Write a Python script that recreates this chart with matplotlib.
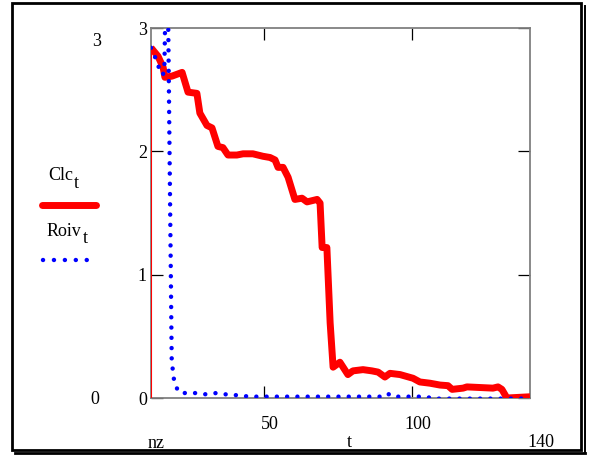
import matplotlib
matplotlib.use("Agg")
import matplotlib.pyplot as plt
import matplotlib.transforms as mtransforms
from matplotlib.lines import Line2D
from matplotlib.patches import Rectangle

# Series Clc(t)
t_clc = [12, 14.4, 16.1, 16.7, 19.1, 22.5, 24.5, 27.5, 28.5, 30.9,
         32.6, 34.6, 36.3, 38.0, 41.0, 43.1, 46.4, 49.8, 52.2, 53.9,
         54.9, 56.6, 58.3, 60.6, 63.0, 64.7, 68.1, 69.1, 69.8, 71.4,
         72.5, 73.5, 75.8, 78.5, 80.2, 83.6, 86.6, 88.7, 91.0, 92.7,
         96.1, 100.5, 102.8, 106.2, 109.6, 112.3, 113.7, 117.4, 118.7, 127.5,
         129.2, 130.5, 132.2, 140]
clc = [2.84, 2.77, 2.68, 2.60, 2.61, 2.64, 2.48, 2.47, 2.31, 2.21,
       2.19, 2.04, 2.03, 1.97, 1.97, 1.98, 1.98, 1.96, 1.95, 1.93,
       1.87, 1.87, 1.79, 1.61, 1.62, 1.59, 1.61, 1.58, 1.22, 1.22,
       0.61, 0.25, 0.29, 0.19, 0.22, 0.23, 0.22, 0.21, 0.17, 0.20,
       0.19, 0.16, 0.13, 0.12, 0.105, 0.10, 0.07, 0.08, 0.09, 0.08,
       0.09, 0.07, 0.0, 0.01]

# Series Roiv(t)
t_roiv = [12, 13, 14.3, 15.8, 16.5, 17.4, 19.0, 19.8, 21.2, 23.5,
          27, 30.5, 34, 37, 40, 43.5, 47, 55, 65, 75,
          85, 90.5, 92, 93.5, 100, 105, 107, 120, 140]
roiv = [2.84, 2.79, 2.70, 2.62, 2.64, 4.0, 0.3, 0.14, 0.05, 0.04,
        0.04, 0.03, 0.04, 0.03, 0.025, 0.015, 0.011, 0.011, 0.011, 0.011,
        0.011, 0.011, 0.035, 0.011, 0.011, 0.011, -0.005, -0.005, -0.005]

x_ticks = [50, 100]
y_ticks = [0, 1, 2, 3]
x_lo, x_hi = 12, 140
y_lo, y_hi = 0, 3

W, H = 590, 461
SERIF = ["Liberation Serif", "DejaVu Serif"]
FS = 13

RED_LW = 5.0
DOT_LW = 3.2
DOTS = (0, (0.01, 2.3))

fig = plt.figure(figsize=(W / 100, H / 100), dpi=100)
ax = fig.add_axes([151 / W, 1 - 398 / H, 379 / W, 370 / H])

ax.plot(t_clc, clc, color="#ff0000", lw=RED_LW, solid_joinstyle="round",
        solid_capstyle="butt", zorder=3)
# thin drop line from the first Clc value to the axis
ax.vlines(t_clc[0], 0, clc[0], color="#ff0000", lw=1.5, zorder=3)
ax.plot(t_roiv, roiv, color="#0000ff", lw=DOT_LW, linestyle=DOTS,
        dash_capstyle="round", zorder=4)

ax.set_xlim(x_lo, x_hi)
ax.set_ylim(y_lo, y_hi)

for s in ax.spines.values():
    s.set_color("#808080")
    s.set_linewidth(1.3)

ax.set_xticks(x_ticks)
ax.set_yticks(y_ticks)
ax.tick_params(direction="in", length=8.5, width=0.9, color="black",
               top=True, right=True, labelsize=FS, pad=3)
ax.set_xticklabels([str(v) for v in x_ticks], family=SERIF)
ax.set_yticklabels([str(v) for v in y_ticks], family=SERIF)
ax.tick_params(axis="x", pad=13)
shift = mtransforms.ScaledTranslation(6 / 100, 0, fig.dpi_scale_trans)
for lab in ax.get_xticklabels():
    lab.set_transform(lab.get_transform() + shift)


def ftext(x, y, s, **kw):
    fig.text(x / W, 1 - y / H, s, family=SERIF, fontsize=FS,
             ha="center", va="center", **kw)


# axis limit labels
ftext(97, 41, "3")
ftext(95, 399, "0")
ftext(156, 443, "nz")
ftext(349, 442, "t")
ftext(541, 442, "140")

# legend: name with a lowered, full-size subscript
def legend_name(x, y, name):
    t = fig.text(x / W, 1 - y / H, name, family=SERIF, fontsize=FS,
                 ha="left", va="center")
    fig.canvas.draw()
    bb = t.get_window_extent()
    fig.text((bb.x1 + 1) / W, (1 - (y + 7) / H), "t", family=SERIF,
             fontsize=FS, ha="left", va="center")


legend_name(48, 176, "Clc")
legend_name(47, 231, "Roiv")
fig.add_artist(Line2D([42 / W, 96 / W], [1 - 205 / H, 1 - 205 / H],
                      color="#ff0000", lw=RED_LW, solid_capstyle="round"))
fig.add_artist(Line2D([43 / W, 89 / W], [1 - 260 / H, 1 - 260 / H],
                      color="#0000ff", lw=DOT_LW, linestyle=(0, (0.01, 2.45)),
                      dash_capstyle="round"))

# outer frame with shadow
fig.add_artist(Rectangle((12 / W, 1 - 450 / H), 569 / W, 447 / H,
                         transform=fig.transFigure, fill=False,
                         edgecolor="black", lw=2.0))
fig.add_artist(Line2D([584.5 / W, 584.5 / W], [1 - 452 / H, 1 - 6 / H],
                      color="black", lw=1.4))
fig.add_artist(Line2D([15 / W, 585 / W], [1 - 452.5 / H, 1 - 452.5 / H],
                      color="black", lw=2.0))

fig.savefig("out.png", dpi=100)
